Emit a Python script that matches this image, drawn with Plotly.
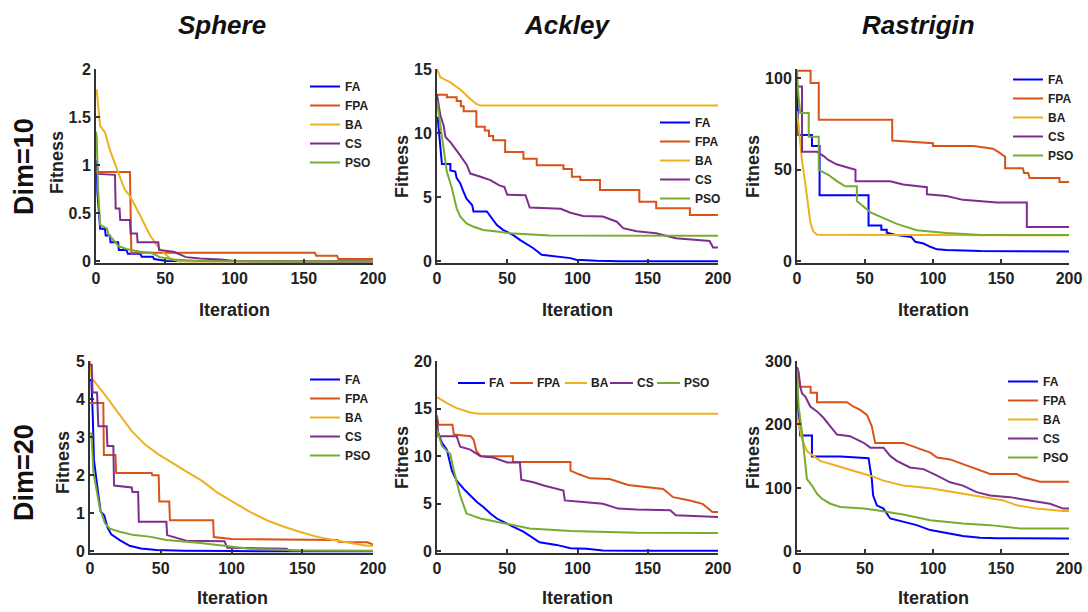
import plotly.graph_objects as go

# ---------------------------------------------------------------- labels
ALGOS = ["FA", "FPA", "BA", "CS", "PSO"]
COLORS = ["#0000FF", "#D95319", "#EDB120", "#7E2F8E", "#77AC30"]
FUNCTIONS = ["Sphere", "Ackley", "Rastrigin"]
DIMS = ["Dim=10", "Dim=20"]
X_TICKS = [0, 50, 100, 150, 200]

# ---------------------------------------------------------------- Sphere, Dim=10
sph10_fa_it = [0, 0.5, 1, 2, 3, 6.5, 7, 10, 10.5, 16, 16.5, 22, 23, 32, 33, 41, 42, 51, 200]
sph10_fa_fit = [1.05, 1.03, 0.72, 0.48, 0.34, 0.34, 0.27, 0.27, 0.2, 0.2, 0.12, 0.12, 0.08, 0.08, 0.05, 0.05, 0.025, 0.004, 0.0]
sph10_fpa_it = [0, 1, 24.5, 25.5, 158, 159, 174, 175, 200]
sph10_fpa_fit = [0.95, 0.93, 0.93, 0.09, 0.09, 0.06, 0.06, 0.025, 0.025]
sph10_ba_it = [0, 0.5, 3, 6.5, 10, 13.6, 17, 20.7, 24.5, 31.8, 39, 46, 53.4, 60.6, 200]
sph10_ba_fit = [1.78, 1.78, 1.41, 1.34, 1.16, 1.03, 0.89, 0.75, 0.68, 0.48, 0.27, 0.13, 0.03, 0.0, 0.0]
sph10_cs_it = [0, 1, 1.2, 13.7, 14.2, 17, 17.5, 24.5, 25, 29.6, 30, 45, 45.5, 56, 65, 75, 90, 100, 200]
sph10_cs_fit = [1.01, 1.01, 0.91, 0.9, 0.55, 0.55, 0.43, 0.43, 0.29, 0.29, 0.2, 0.2, 0.12, 0.1, 0.045, 0.03, 0.02, 0.004, 0.0]
sph10_pso_it = [0, 0.5, 1.5, 2.5, 3, 8, 9, 14, 16, 22, 32, 40, 46, 56, 75, 200]
sph10_pso_fit = [1.35, 1.3, 0.75, 0.45, 0.38, 0.34, 0.28, 0.2, 0.16, 0.13, 0.1, 0.09, 0.045, 0.02, 0.005, 0.0]

# ---------------------------------------------------------------- Sphere, Dim=20
sph20_fa_it = [0, 1, 2, 2.8, 5, 7.5, 10, 12.5, 15, 21, 28, 36, 47, 66, 100, 200]
sph20_fa_fit = [4.5, 4.5, 3.5, 2.4, 1.75, 1.05, 0.95, 0.62, 0.45, 0.3, 0.15, 0.08, 0.04, 0.02, 0.01, 0.005]
sph20_fpa_it = [0, 9.4, 9.8, 18, 18.5, 43.6, 44, 48.5, 49, 56, 56.5, 87, 87.5, 100, 175, 176, 196, 200]
sph20_fpa_fit = [3.9, 3.9, 2.53, 2.53, 2.06, 2.06, 2.0, 2.0, 1.31, 1.31, 0.82, 0.82, 0.38, 0.33, 0.3, 0.25, 0.24, 0.18]
sph20_ba_it = [0, 1.2, 10.6, 20, 29.5, 38.9, 48.3, 57.7, 67, 79, 89.5, 101, 113, 125, 137, 148, 160, 172, 184, 195.5, 200]
sph20_ba_fit = [5.0, 4.55, 4.11, 3.64, 3.16, 2.81, 2.55, 2.34, 2.12, 1.86, 1.56, 1.3, 1.04, 0.82, 0.65, 0.52, 0.39, 0.3, 0.22, 0.15, 0.15]
sph20_cs_it = [0, 1.2, 1.8, 5, 5.9, 11.8, 12.3, 16.5, 17, 29.5, 30, 34, 34.5, 54, 54.5, 59, 64, 68, 95, 97, 139, 141, 200]
sph20_cs_fit = [4.9, 4.9, 4.17, 4.17, 3.29, 3.29, 2.77, 2.77, 1.73, 1.68, 1.56, 1.56, 0.78, 0.78, 0.43, 0.38, 0.34, 0.28, 0.27, 0.1, 0.07, 0.02, 0.01]
sph20_pso_it = [0, 1, 2.4, 4.7, 7, 10.6, 14, 21, 31, 42, 54, 78, 101, 113, 148, 200]
sph20_pso_fit = [3.1, 3.1, 2.08, 1.56, 1.12, 0.74, 0.6, 0.52, 0.43, 0.39, 0.3, 0.22, 0.13, 0.07, 0.03, 0.02]

# ---------------------------------------------------------------- Ackley, Dim=10
ack10_fa_it = [0, 0.5, 3.5, 9.5, 9.5, 13, 14, 16.5, 19, 21, 25, 26, 35.5, 39, 42.6, 47, 54, 59, 64, 68.6, 74.5, 85, 95, 99, 113.6, 130, 200]
ack10_fa_fit = [11.2, 11.2, 7.6, 7.6, 7.1, 7.0, 6.5, 6.1, 5.4, 4.9, 4.4, 3.9, 3.9, 3.36, 2.84, 2.46, 2.07, 1.68, 1.34, 1.03, 0.52, 0.39, 0.26, 0.13, 0.05, 0.02, 0.02]
ack10_fpa_it = [0, 7, 7, 14, 14, 17, 17, 19, 19, 28, 28, 34, 34, 37, 37, 40, 40, 48.5, 48.5, 61.5, 61.5, 71, 71, 90, 90, 96, 96, 102, 102, 116, 116, 144, 144, 156, 156, 180, 180, 200]
ack10_fpa_fit = [13.0, 13.0, 12.8, 12.8, 12.5, 12.5, 12.1, 12.1, 11.7, 11.7, 10.5, 10.5, 10.2, 10.2, 9.77, 9.77, 9.44, 9.44, 8.53, 8.53, 8.0, 8.0, 7.5, 7.5, 7.2, 7.2, 6.6, 6.6, 6.34, 6.34, 5.56, 5.56, 4.65, 4.65, 4.14, 4.14, 3.62, 3.62]
ack10_ba_it = [0, 2.4, 9.5, 16.6, 23.7, 28, 31, 200]
ack10_ba_fit = [15.0, 14.35, 13.96, 13.4, 12.67, 12.28, 12.15, 12.15]
ack10_cs_it = [0, 2.4, 4.7, 6, 9.5, 13, 16.5, 21.3, 23.7, 31, 38, 44, 48, 50, 63, 66, 88, 95, 104, 118, 128, 132.5, 142, 156, 170, 194, 196.5, 200]
ack10_cs_fit = [13.0, 11.4, 10.6, 9.7, 9.3, 8.8, 8.27, 7.5, 6.85, 6.6, 6.34, 5.95, 5.8, 5.2, 5.17, 4.2, 4.1, 3.8, 3.55, 3.5, 3.1, 2.6, 2.35, 2.2, 1.81, 1.6, 1.09, 1.09]
ack10_pso_it = [0, 2.4, 4.7, 7, 10.6, 14, 16.5, 21, 26, 33, 42.6, 52, 80, 200]
ack10_pso_fit = [12.5, 10.6, 8.8, 7.0, 5.7, 4.14, 3.5, 2.97, 2.7, 2.46, 2.33, 2.2, 2.02, 2.0]

# ---------------------------------------------------------------- Ackley, Dim=20
ack20_fa_it = [0, 3.5, 7, 10.6, 14, 19, 23.7, 28.4, 33, 38, 42.6, 47, 54, 61.5, 68.6, 73, 85, 95, 106.5, 118, 142, 200]
ack20_fa_fit = [12.8, 11.4, 10.7, 8.48, 7.44, 6.57, 5.88, 5.19, 4.67, 3.98, 3.46, 3.11, 2.6, 2.08, 1.38, 0.97, 0.69, 0.35, 0.28, 0.1, 0.07, 0.07]
ack20_fpa_it = [0, 1, 11, 12, 24, 26, 28, 31, 54, 54, 95, 95, 100.6, 109, 123, 136, 161, 168, 180, 189, 196, 200]
ack20_fpa_fit = [14.3, 13.3, 13.3, 12.28, 12.1, 11.76, 10.55, 10.03, 10.0, 9.4, 9.4, 8.48, 8.13, 7.68, 7.6, 6.99, 6.57, 5.7, 5.36, 5.0, 4.15, 4.15]
ack20_ba_it = [0, 7, 14, 23.7, 29.6, 200]
ack20_ba_fit = [16.2, 15.57, 15.05, 14.6, 14.46, 14.46]
ack20_cs_it = [0, 1, 14, 16.5, 23.7, 31, 40, 50, 59, 60, 68.6, 76, 90, 91, 104, 118, 129, 142, 166, 170, 200]
ack20_cs_fit = [13.84, 12.1, 12.1, 11.0, 10.7, 10.0, 9.86, 9.34, 9.34, 7.54, 7.27, 6.92, 6.4, 5.36, 5.19, 5.0, 4.5, 4.4, 4.33, 3.8, 3.63]
ack20_pso_it = [0, 3.5, 9.5, 12, 16.5, 21, 31, 42.6, 54, 66, 95, 142, 200]
ack20_pso_fit = [12.8, 11.07, 10.2, 8.48, 5.88, 3.98, 3.46, 3.11, 2.84, 2.42, 2.15, 1.97, 1.95]

# ---------------------------------------------------------------- Rastrigin, Dim=10
ras10_fa_it = [0, 1, 11, 11, 16.6, 16.6, 52.6, 52.6, 62, 62, 66, 66, 72, 84, 87, 93, 98, 103, 110, 135, 200]
ras10_fa_fit = [98, 69, 69, 63, 63, 36.1, 36.1, 19.6, 19.6, 17.3, 17.3, 15.7, 14.6, 13.4, 10.7, 9.8, 8.0, 6.6, 6.25, 5.7, 5.5]
ras10_fpa_it = [0, 10, 10, 16, 16, 70, 70, 88, 100, 100, 130, 144, 148, 153, 153, 166, 167, 170, 171, 193, 193, 200]
ras10_fpa_fit = [104, 104, 97.3, 97.3, 77.3, 77.3, 66, 65, 64.5, 63, 63, 61.5, 59.8, 57.1, 50.9, 50.9, 48.2, 48.2, 45.5, 45.5, 43.4, 43.4]
ras10_ba_it = [0, 3.7, 6, 8.6, 9.8, 12, 14.7, 200]
ras10_ba_fit = [82, 55, 43, 28.6, 21.4, 16.4, 14.6, 14.3]
ras10_cs_it = [0, 3.7, 3.7, 14.7, 19.6, 23, 29, 35.5, 43, 43, 68.5, 78, 95.5, 95.5, 110, 122, 147, 169, 169, 200]
ras10_cs_fit = [95.5, 95.5, 59.8, 59.8, 57.5, 55.4, 53, 51.8, 50, 43.75, 43.75, 42, 40.5, 36.6, 35.7, 33.6, 32.1, 32.1, 18.75, 18.75]
ras10_pso_it = [0, 1, 2.4, 8.6, 8.6, 16, 16, 23, 29, 35.5, 44, 44, 54, 66, 73.4, 88, 110, 135, 200]
ras10_pso_fit = [104, 91, 81, 81, 68, 68, 50, 47.3, 44, 41, 41, 33, 26.8, 22.9, 20.5, 17, 15.5, 14.5, 14.5]

# ---------------------------------------------------------------- Rastrigin, Dim=20
ras20_fa_it = [0, 2.4, 11, 11, 32, 52.6, 55, 56, 58.7, 63.6, 68.5, 78, 88, 98, 110, 122, 134.6, 147, 200]
ras20_fa_fit = [249, 182.7, 182.7, 149.5, 149.5, 147, 114, 88, 72.6, 67.5, 52, 46.7, 41.5, 33.7, 28.5, 24.4, 21.8, 20.8, 20.5]
ras20_fpa_it = [0, 2.4, 10, 10, 14.7, 14.7, 36.7, 41.6, 46.5, 51.4, 55, 57.5, 78, 88, 98, 103, 112.6, 122, 132, 142, 161.5, 166.5, 178.7, 200]
ras20_fpa_fit = [290, 259.5, 259.5, 250, 250, 235, 235, 228, 223, 215, 197, 171, 171, 163.5, 155.7, 148, 145, 137.5, 129.7, 122, 122, 116.8, 110, 110]
ras20_ba_it = [0, 2.4, 3.7, 7.3, 12, 17, 29, 41.6, 53.9, 63.6, 78, 98, 107.7, 122, 137, 151.8, 161.6, 176, 195.8, 200]
ras20_ba_fit = [213.8, 186.8, 176.4, 158, 150.5, 142.7, 135, 127, 119.4, 111.6, 103.8, 99.6, 96, 90.8, 85.6, 80.4, 72.7, 67.5, 63.8, 63.8]
ras20_cs_it = [0, 1.2, 2.4, 3.7, 6.1, 9.8, 14.7, 19.6, 24.5, 29.4, 39, 49, 53.9, 63.6, 68.5, 73.4, 83, 93, 103, 112.6, 122, 132, 142, 156.6, 171, 186, 195.8, 200]
ras20_cs_fit = [290, 282.8, 259.5, 249, 243.9, 228.3, 220.6, 210.2, 197.2, 184.2, 181.6, 171.2, 163.5, 163.5, 150.5, 142.7, 132.3, 129.7, 119.4, 109, 103.8, 93.4, 88.2, 85.6, 80.4, 75.2, 67.5, 67.5]
ras20_pso_it = [0, 1.2, 3.7, 5.4, 7.3, 11, 14.7, 18.4, 24.5, 31.8, 49, 58.7, 78, 98, 122, 142, 164, 200]
ras20_pso_fit = [285, 228, 186.8, 155.7, 114, 103.8, 90.8, 83, 75.2, 70, 67.5, 64.9, 58.1, 49.3, 44.1, 41.5, 36.3, 36.3]

# ---------------------------------------------------------------- y-axis ticks per panel
sph10_yticks = [0, 0.5, 1, 1.5, 2]
sph20_yticks = [0, 1, 2, 3, 4, 5]
ack10_yticks = [0, 5, 10, 15]
ack20_yticks = [0, 5, 10, 15, 20]
ras10_yticks = [0, 50, 100]
ras20_yticks = [0, 100, 200, 300]

# ---------------------------------------------------------------- layout helpers
W, H = 1088, 612
FONT = "Liberation Sans, Arial, sans-serif"
INK = "#222222"
AXIS = "#333333"


def px_x(p):
    return p / W


def px_y(p):
    return 1 - p / H


# legend: either a plotly legend box ("v") or a single row of keys ("row")
panels = [
    dict(series=[(sph10_fa_it, sph10_fa_fit), (sph10_fpa_it, sph10_fpa_fit), (sph10_ba_it, sph10_ba_fit),
                 (sph10_cs_it, sph10_cs_fit), (sph10_pso_it, sph10_pso_fit)],
         yticks=sph10_yticks, ytop=2, xpx=(96, 373), ypx=(263, 69),
         legend=dict(kind="v", x=305, y=72), fit_px=(57, 163), it_px=(234, 310)),
    dict(series=[(ack10_fa_it, ack10_fa_fit), (ack10_fpa_it, ack10_fpa_fit), (ack10_ba_it, ack10_ba_fit),
                 (ack10_cs_it, ack10_cs_fit), (ack10_pso_it, ack10_pso_fit)],
         yticks=ack10_yticks, ytop=15, xpx=(437, 718), ypx=(263, 69),
         legend=dict(kind="v", x=655, y=108), fit_px=(402, 167), it_px=(577, 310)),
    dict(series=[(ras10_fa_it, ras10_fa_fit), (ras10_fpa_it, ras10_fpa_fit), (ras10_ba_it, ras10_ba_fit),
                 (ras10_cs_it, ras10_cs_fit), (ras10_pso_it, ras10_pso_fit)],
         yticks=ras10_yticks, ytop=105, xpx=(797, 1069), ypx=(263, 69),
         legend=dict(kind="v", x=1008, y=65), fit_px=(753, 167), it_px=(933, 310)),
    dict(series=[(sph20_fa_it, sph20_fa_fit), (sph20_fpa_it, sph20_fpa_fit), (sph20_ba_it, sph20_ba_fit),
                 (sph20_cs_it, sph20_cs_fit), (sph20_pso_it, sph20_pso_fit)],
         yticks=sph20_yticks, ytop=5, xpx=(90, 373), ypx=(553, 361),
         legend=dict(kind="v", x=305, y=365), fit_px=(63, 463), it_px=(232, 598)),
    dict(series=[(ack20_fa_it, ack20_fa_fit), (ack20_fpa_it, ack20_fpa_fit), (ack20_ba_it, ack20_ba_fit),
                 (ack20_cs_it, ack20_cs_fit), (ack20_pso_it, ack20_pso_fit)],
         yticks=ack20_yticks, ytop=20, xpx=(437, 718), ypx=(553, 361),
         legend=dict(kind="row", y=383, keys=[(458, 485), (510, 533), (565, 587), (610, 633), (657, 680)]),
         fit_px=(402, 458), it_px=(577, 598)),
    dict(series=[(ras20_fa_it, ras20_fa_fit), (ras20_fpa_it, ras20_fpa_fit), (ras20_ba_it, ras20_ba_fit),
                 (ras20_cs_it, ras20_cs_fit), (ras20_pso_it, ras20_pso_fit)],
         yticks=ras20_yticks, ytop=300, xpx=(797, 1069), ypx=(553, 361),
         legend=dict(kind="v", x=1003, y=367), fit_px=(753, 458), it_px=(933, 598)),
]

fig = go.Figure()
layout = dict(
    width=W, height=H,
    # fixed zero margins: nothing is allowed to push the plot area inwards
    margin=dict(l=0, r=0, t=0, b=0, autoexpand=False),
    paper_bgcolor="white", plot_bgcolor="white",
    font=dict(family=FONT, color=INK),
    showlegend=True,
    annotations=[],
    shapes=[],
)
legend_font = dict(family=FONT, size=12, color=INK, weight="bold")

for k, p in enumerate(panels):
    sfx = "" if k == 0 else str(k + 1)
    leg_name = "legend" + sfx
    lg = p["legend"]
    boxed = lg["kind"] == "v"
    for name, color, (it, fit) in zip(ALGOS, COLORS, p["series"]):
        fig.add_trace(go.Scatter(
            x=it, y=fit, mode="lines", name=name,
            line=dict(color=color, width=2),
            xaxis="x" + sfx, yaxis="y" + sfx,
            legend=leg_name, showlegend=boxed, hoverinfo="skip",
        ))

    axis_common = dict(
        showline=True, linecolor=AXIS, linewidth=2,
        ticks="inside", ticklen=4, tickwidth=1.5, tickcolor=AXIS,
        showgrid=False, zeroline=False, automargin=False,
        tickfont=dict(family=FONT, size=16, color=INK, weight="bold"),
    )
    layout["xaxis" + sfx] = dict(
        axis_common, domain=[px_x(p["xpx"][0]), px_x(p["xpx"][1])],
        range=[0, 200], tickvals=X_TICKS, anchor="y" + sfx,
    )
    layout["yaxis" + sfx] = dict(
        axis_common, domain=[px_y(p["ypx"][0]), px_y(p["ypx"][1])],
        range=[-0.008 * p["ytop"], p["ytop"]], tickvals=p["yticks"], anchor="x" + sfx,
    )
    if boxed:
        layout[leg_name] = dict(
            x=px_x(lg["x"]), y=px_y(lg["y"]), xanchor="left", yanchor="top",
            orientation="v", bgcolor="rgba(0,0,0,0)", borderwidth=0,
            font=legend_font, tracegroupgap=0,
            itemclick=False, itemdoubleclick=False,
        )
    else:
        # compact single-row key: short line swatch followed by the label
        for name, color, (x0, x1) in zip(ALGOS, COLORS, lg["keys"]):
            layout["shapes"].append(dict(
                type="line", xref="paper", yref="paper",
                x0=px_x(x0), x1=px_x(x1), y0=px_y(lg["y"]), y1=px_y(lg["y"]),
                line=dict(color=color, width=2),
            ))
            layout["annotations"].append(dict(
                text=name, x=px_x(x1 + 2), y=px_y(lg["y"]), xref="paper", yref="paper",
                showarrow=False, xanchor="left", yanchor="middle", font=legend_font,
            ))
    layout["annotations"].append(dict(
        text="Fitness", x=px_x(p["fit_px"][0]), y=px_y(p["fit_px"][1]),
        xref="paper", yref="paper", showarrow=False, textangle=-90,
        xanchor="center", yanchor="middle",
        font=dict(family=FONT, size=18, color=INK, weight="bold"),
    ))
    layout["annotations"].append(dict(
        text="Iteration", x=px_x(p["it_px"][0]), y=px_y(p["it_px"][1]),
        xref="paper", yref="paper", showarrow=False,
        xanchor="center", yanchor="middle",
        font=dict(family=FONT, size=18, color=INK, weight="bold"),
    ))

# column titles
for name, cx in zip(FUNCTIONS, [222, 567, 918]):
    layout["annotations"].append(dict(
        text=name, x=px_x(cx), y=px_y(25), xref="paper", yref="paper",
        showarrow=False, xanchor="center", yanchor="middle",
        font=dict(family=FONT, size=26, color="#111111", weight="bold", style="italic"),
    ))

# row labels
for name, cy in zip(DIMS, [167, 473]):
    layout["annotations"].append(dict(
        text=name, x=px_x(24), y=px_y(cy), xref="paper", yref="paper",
        showarrow=False, textangle=-90, xanchor="center", yanchor="middle",
        font=dict(family=FONT, size=27, color="#111111", weight="bold"),
    ))

fig.update_layout(**layout)
fig.write_html("out.html")
